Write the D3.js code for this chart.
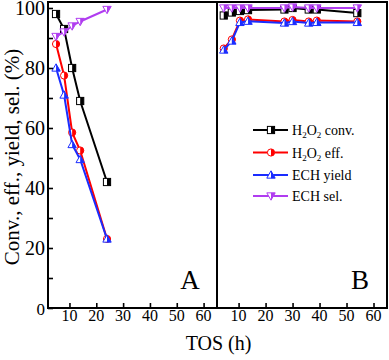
<!DOCTYPE html>
<html><head><meta charset="utf-8">
<script src="https://cdn.jsdelivr.net/npm/d3@7"></script>
<style>html,body{margin:0;padding:0;background:#fff;}svg{display:block;}
text{font-family:"Liberation Serif","Times New Roman","DejaVu Serif",serif;}</style>
</head><body>
<script>
// ---- data ----
const timesA = [5, 8, 11, 14, 24];
const convA  = [98, 93, 80, 69, 42];
const effA   = [88, 77.5, 58.5, 52.5, 23];
const yieldA = [80, 71, 54.5, 49.5, 23];
const selA   = [90.5, 92, 94, 95.5, 99.5];

const timesB = [4.5, 7.5, 10.5, 13.5, 27, 30, 36, 39, 54];
const convB  = [97.5, 98.5, 99, 99.3, 99.5, 100, 99.5, 99.5, 98.3];
const effB   = [86.5, 89.5, 95.8, 96.2, 95.5, 96, 95.5, 95.8, 95.5];
const yieldB = [86, 89, 95.2, 95.6, 95, 95.5, 95, 95.2, 95.2];
const selB   = [100, 100, 100, 100, 100, 100.3, 100, 100, 100];

const xTicks = [10, 20, 30, 40, 50, 60];
const yTicks = [0, 20, 40, 60, 80, 100];
const yMinor = [10, 30, 50, 70, 90];
const seriesNames = ["H2O2 conv.", "H2O2 eff.", "ECH yield", "ECH sel."];
const seriesColors = ["#000000", "#ff0000", "#1a2cff", "#b03cf0"];
const seriesShapes = ["square", "circle", "triangleUp", "triangleDown"];

const W = 389, H = 360;
const svg = d3.select("body").append("svg").attr("width", W).attr("height", H);

const L = 48, M = 217, R = 387, T = 2, B = 308;
const xA = d3.scaleLinear().domain([2, 65]).range([L, M]);
const xB = d3.scaleLinear().domain([2, 65]).range([M, R]);
const y = d3.scaleLinear().domain([0, 102]).range([B, T]);

function marker(g, shape, cx, cy, color) {
  const s = 3.6;
  if (shape === "square") {
    g.append("rect").attr("x", cx - s).attr("y", cy - s).attr("width", 2*s).attr("height", 2*s)
      .attr("fill", "#fff").attr("stroke", color).attr("stroke-width", 1);
    g.append("rect").attr("x", cx).attr("y", cy - s).attr("width", s).attr("height", 2*s).attr("fill", color);
  } else if (shape === "circle") {
    g.append("circle").attr("cx", cx).attr("cy", cy).attr("r", s).attr("fill", "#fff").attr("stroke", color).attr("stroke-width", 1);
    g.append("path").attr("d", `M${cx},${cy - s} A${s},${s} 0 0 1 ${cx},${cy + s} Z`).attr("fill", color);
  } else if (shape === "triangleUp") {
    const h = 4.2;
    g.append("path").attr("d", `M${cx},${cy - h} L${cx + h},${cy + h*0.75} L${cx - h},${cy + h*0.75} Z`)
      .attr("fill", "#fff").attr("stroke", color).attr("stroke-width", 1);
    g.append("path").attr("d", `M${cx},${cy - h} L${cx + h},${cy + h*0.75} L${cx},${cy + h*0.75} Z`).attr("fill", color);
  } else {
    const h = 4.2;
    g.append("path").attr("d", `M${cx},${cy + h} L${cx + h},${cy - h*0.75} L${cx - h},${cy - h*0.75} Z`)
      .attr("fill", "#fff").attr("stroke", color).attr("stroke-width", 1);
    g.append("path").attr("d", `M${cx},${cy + h} L${cx + h},${cy - h*0.75} L${cx},${cy - h*0.75} Z`).attr("fill", color);
  }
}

function drawSeries(x, times, vals, i) {
  const pts = times.map((t, k) => [t, vals[k]]);
  svg.append("path").datum(pts)
    .attr("d", d3.line().x(d => x(d[0])).y(d => y(d[1])))
    .attr("fill", "none").attr("stroke", seriesColors[i]).attr("stroke-width", 2);
}
function drawMarkers(x, times, vals, i) {
  const g = svg.append("g");
  times.forEach((t, k) => marker(g, seriesShapes[i], x(t), y(vals[k]), seriesColors[i]));
}

const A = [convA, effA, yieldA, selA];
const Bs = [convB, effB, yieldB, selB];
[0, 1, 2, 3].forEach(i => { drawSeries(xA, timesA, A[i], i); drawMarkers(xA, timesA, A[i], i); });
[0, 1, 2, 3].forEach(i => { drawSeries(xB, timesB, Bs[i], i); drawMarkers(xB, timesB, Bs[i], i); });

// frame
svg.append("rect").attr("x", L).attr("y", T).attr("width", R - L).attr("height", B - T)
  .attr("fill", "none").attr("stroke", "#000").attr("stroke-width", 2);
svg.append("line").attr("x1", M).attr("x2", M).attr("y1", T).attr("y2", B).attr("stroke", "#000").attr("stroke-width", 2);

// x axes (ticks inward)
[xA, xB].forEach(x => {
  const ax = svg.append("g").attr("transform", `translate(0,${B})`)
    .call(d3.axisTop(x).tickValues(xTicks).tickSize(5).tickFormat(""));
  ax.select(".domain").remove();
  ax.selectAll("line").attr("stroke-width", 1.6);
  svg.append("g").selectAll("text").data(xTicks).join("text")
    .attr("x", d => x(d)).attr("y", 321).attr("text-anchor", "middle")
    .attr("font-size", 16).text(d => d);
});

// y axis
const ay = svg.append("g").attr("transform", `translate(${L},0)`)
  .call(d3.axisRight(y).tickValues(yTicks.concat(yMinor)).tickSize(5).tickFormat(""));
ay.select(".domain").remove();
ay.selectAll("line").attr("stroke-width", 1.6);
svg.append("g").selectAll("text").data(yTicks).join("text")
  .attr("x", 45).attr("y", d => y(d) + 7).attr("text-anchor", "end")
  .attr("font-size", d => d === 0 ? 17 : 20).text(d => d);

// titles
svg.append("text").attr("transform", `translate(19,${(T + B) / 2 + 2}) rotate(-90)`)
  .attr("text-anchor", "middle").attr("font-size", 21)
  .text("Conv., eff., yield, sel. (%)");
svg.append("text").attr("x", (L + R) / 2 + 1).attr("y", 350).attr("text-anchor", "middle")
  .attr("font-size", 20).text("TOS (h)");

svg.append("text").attr("x", 190).attr("y", 289).attr("text-anchor", "middle")
  .attr("font-size", 27).text("A");
svg.append("text").attr("x", 360).attr("y", 289).attr("text-anchor", "middle")
  .attr("font-size", 27).text("B");

// legend
const legY = [130, 152.5, 175, 196];
seriesNames.forEach((name, i) => {
  const yy = legY[i];
  svg.append("line").attr("x1", 253).attr("x2", 288).attr("y1", yy).attr("y2", yy)
    .attr("stroke", seriesColors[i]).attr("stroke-width", 2);
  marker(svg.append("g"), seriesShapes[i], 271, yy, seriesColors[i]);
  const t = svg.append("text").attr("x", 292).attr("y", yy + 5).attr("font-size", 14);
  if (name.startsWith("H2O2")) {
    t.append("tspan").text("H");
    t.append("tspan").attr("font-size", 9).attr("dy", 3).text("2");
    t.append("tspan").attr("dy", -3).text("O");
    t.append("tspan").attr("font-size", 9).attr("dy", 3).text("2");
    t.append("tspan").attr("dy", -3).text(name.slice(4));
  } else {
    t.text(name);
  }
});
</script>
</body></html>
